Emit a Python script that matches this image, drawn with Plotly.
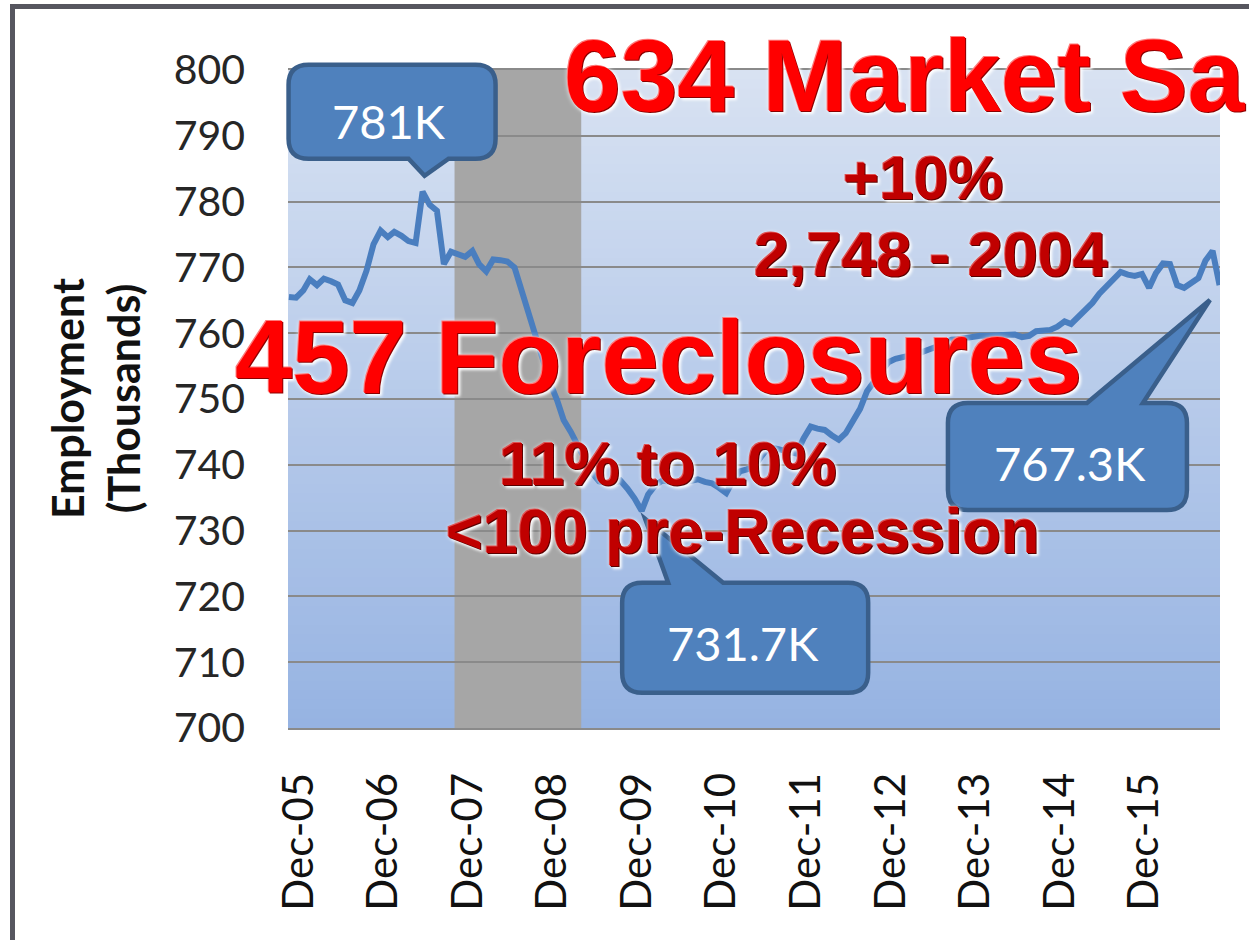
import plotly.graph_objects as go
import pandas as pd

# ---------------- data ----------------
start_month = "2005-12-01"
employment = [
    765.5, 765.4, 766.5, 768.2, 767.3, 768.3, 767.9, 767.4, 765.0, 764.6,
    766.5, 769.5, 773.5, 775.6, 774.6, 775.4, 774.8, 774.0, 773.7, 781.5,
    779.5, 778.6, 770.5, 772.4, 772.0, 771.6, 772.5, 770.5, 769.4, 771.2,
    771.1, 770.9, 770.0, 766.5, 762.5, 759.0, 755.7, 752.5, 749.8, 746.8,
    745.0, 742.9, 740.6, 738.8, 737.5, 737.2, 737.2, 737.6, 736.4, 734.9,
    733.0, 735.5, 736.9, 737.6, 737.4, 737.1, 737.3, 737.6, 737.8, 737.4,
    737.2, 736.5, 735.7, 737.5, 739.0, 739.3, 739.7, 741.2, 742.6, 742.5,
    742.2, 741.9, 741.7, 744.0, 745.8, 745.5, 745.3, 744.5, 743.8, 744.8,
    746.5, 748.5, 751.2, 752.7, 754.2, 755.6, 756.1, 756.4, 756.6, 756.8,
    757.1, 757.6, 758.0, 758.5, 759.0, 759.1, 759.3, 759.5, 759.6, 759.6,
    759.7, 759.8, 759.9, 759.8, 759.4, 759.6, 760.3, 760.5, 760.5, 761.0,
    761.8, 761.4, 762.5, 763.3, 764.6, 766.0, 767.2, 768.3, 769.3, 768.9,
    768.7, 769.0, 766.9, 769.1, 770.6, 770.5, 767.3, 766.9, 767.7, 768.4,
    771.0, 772.5, 767.3,
]
tick_labels = ["Dec-05", "Dec-06", "Dec-07", "Dec-08", "Dec-09", "Dec-10",
               "Dec-11", "Dec-12", "Dec-13", "Dec-14", "Dec-15"]
y_ticks = [700, 710, 720, 730, 740, 750, 760, 770, 780, 790, 800]
recession_start = "2007-11-16"
recession_end = "2009-05-16"
callout_texts = ["781K", "731.7K", "767.3K"]   # peak, trough, latest
headline_texts = ["634 Market Sales", "+10%", "2,748 - 2004",
                  "457 Foreclosures", "11% to 10%", "<100 pre-Recession"]

months = pd.date_range(start_month, periods=len(employment), freq="MS")
tick_dates = [pd.to_datetime(t, format="%b-%y") for t in tick_labels]

# ---------------- layout geometry ----------------
W, H = 1249, 940
ML, MR, MT, MB = 288, 29, 70, 212
PW, PH = W - ML - MR, H - MT - MB
x_range = [pd.Timestamp("2005-11-27"), pd.Timestamp("2016-12-03")]
y_range = [y_ticks[0], y_ticks[-1]]


def xfrac(t):
    return (pd.Timestamp(t) - x_range[0]) / (x_range[1] - x_range[0])


def yfrac(v):
    return (v - y_range[0]) / (y_range[1] - y_range[0])


def px2paper(px, py):
    return (px - ML) / PW, (H - MB - py) / PH


fig = go.Figure()

# line
fig.add_trace(go.Scatter(
    x=months, y=employment, mode="lines",
    line=dict(color="#4a7ebf", width=6),
    hoverinfo="x+y", showlegend=False,
))

shapes = []
# gradient plot background (bands)
N = 70
top_c = (216, 226, 242)
bot_c = (150, 179, 226)
for k in range(N):
    f = (k + 0.5) / N
    c = tuple(int(round(bot_c[j] + (top_c[j] - bot_c[j]) * f)) for j in range(3))
    shapes.append(dict(type="rect", xref="paper", yref="paper",
                       x0=0, x1=1, y0=k / N, y1=(k + 1) / N + 0.002,
                       fillcolor="rgb(%d,%d,%d)" % c, line=dict(width=0),
                       layer="below"))
# recession shading
shapes.append(dict(type="rect", xref="x", yref="paper",
                   x0=recession_start, x1=recession_end, y0=0, y1=1,
                   fillcolor="#a6a6a6", line=dict(width=0), layer="between"))


def callout_path(box, side, base, tip, r=20):
    bx0, bx1, by0, by1 = box
    pts = []
    pts.append(("M", bx0 + r, by0))
    if side == "top":
        pts += [("L", base[0], by0), ("L", tip[0], tip[1]), ("L", base[1], by0)]
    pts.append(("L", bx1 - r, by0))
    pts.append(("Q", bx1, by0, bx1, by0 + r))
    pts.append(("L", bx1, by1 - r))
    pts.append(("Q", bx1, by1, bx1 - r, by1))
    if side == "bottom":
        pts += [("L", base[1], by1), ("L", tip[0], tip[1]), ("L", base[0], by1)]
    pts.append(("L", bx0 + r, by1))
    pts.append(("Q", bx0, by1, bx0, by1 - r))
    pts.append(("L", bx0, by0 + r))
    pts.append(("Q", bx0, by0, bx0 + r, by0))
    s = ""
    for p in pts:
        cmd = p[0]
        coords = p[1:]
        segs = []
        for i in range(0, len(coords), 2):
            segs.append("%.1f,%.1f" % (coords[i], -coords[i + 1]))
        s += cmd + " ".join(segs) + " "
    return s + "Z"


i_peak = max(range(len(employment)), key=lambda i: employment[i])
i_trough = min(range(len(employment)), key=lambda i: employment[i])
i_last = len(employment) - 1

callouts = [
    # anchor index, box(screen px rel), side, base, tip, text offset
    (i_peak, (-134, 73, -127, -33), "bottom", (-14, 26), (2, -16), (-34, -71), callout_texts[0]),
    (i_trough, (-19.5, 226.5, 72, 182), "top", (26.5, 81.5), (3.5, 8), (101.5, 132), callout_texts[1]),
    (i_last, (-271.6, -32.6, 117.8, 224.8), "top", (-132.6, -76.6), (-9.6, 14.8), (-149.6, 178), callout_texts[2]),
]

annotations = []
for idx, box, side, base, tip, toff, txt in callouts:
    shapes.append(dict(
        type="path", xref="paper", yref="paper",
        xsizemode="pixel", ysizemode="pixel",
        xanchor=xfrac(months[idx]), yanchor=yfrac(employment[idx]),
        path=callout_path(box, side, base, tip),
        fillcolor="#4f81bd", line=dict(color="#3a5f8b", width=4.5),
        layer="above",
    ))
    annotations.append(dict(
        x=months[idx], y=employment[idx], xref="x", yref="y",
        xshift=toff[0], yshift=-toff[1], showarrow=False,
        text=txt, font=dict(family="Lato", size=47, color="white"),
        xanchor="center", yanchor="middle",
    ))

# outer frame
fx, fy = px2paper(12.5, 6.5)
shapes.append(dict(type="rect", xref="paper", yref="paper",
                   x0=fx, x1=1.3, y0=-0.6, y1=fy,
                   line=dict(color="#56565f", width=5), fillcolor="rgba(0,0,0,0)",
                   layer="above"))

# y axis title
annotations.append(dict(
    x=0, y=0.5, xref="paper", yref="paper", xshift=95 - ML,
    text="<b>Employment</b><br><b>(Thousands)</b>", textangle=-90,
    showarrow=False, font=dict(family="Lato", size=43, color="#111111"),
    xanchor="center", yanchor="middle",
))

bright_shadow = ("1px 1px 0px #8b0000, -1px -1px 0px #ff7a7a, "
                 "3px 3px 3px rgba(255,255,255,0.95), 0px 0px 5px #ffffff")
dark_shadow = ("1px 1px 0px #5a0000, -1px -1px 0px #e05050, "
               "3px 3px 3px rgba(255,255,255,0.95), 0px 0px 4px #ffffff")

headline_specs = [
    # text, px, py, size, color, shadow, anchor
    (headline_texts[0], 562, 76, 102, "#ff0000", bright_shadow, "left"),
    (headline_texts[1], 923, 177, 62, "#c00000", dark_shadow, "center"),
    (headline_texts[2], 931, 254, 63, "#c00000", dark_shadow, "center"),
    (headline_texts[3], 658, 358, 103, "#ff0000", bright_shadow, "center"),
    (headline_texts[4], 668, 463, 62, "#c00000", dark_shadow, "center"),
    (headline_texts[5], 743, 531, 63, "#c00000", dark_shadow, "center"),
]
for txt, px, py, size, col, shd, anc in headline_specs:
    xp, yp = px2paper(px, py)
    annotations.append(dict(
        x=xp, y=yp, xref="paper", yref="paper", text="<b>%s</b>" % txt,
        showarrow=False, xanchor=anc, yanchor="middle",
        font=dict(family="Liberation Sans", size=size, color=col, shadow=shd),
    ))

fig.update_layout(
    width=W, height=H,
    margin=dict(l=ML, r=MR, t=MT, b=MB, pad=0),
    paper_bgcolor="white", plot_bgcolor="#b5c9eb",
    shapes=shapes, annotations=annotations, showlegend=False,
    xaxis=dict(
        range=[x_range[0], x_range[1]], tickvals=tick_dates, ticktext=tick_labels,
        tickangle=-90, showgrid=False, zeroline=False,
        showline=True, linecolor="#8a8a8a", linewidth=2, mirror=True,
        ticks="", ticklabelstandoff=26, ticklabelshift=10,
        tickfont=dict(family="Lato", size=42, color="#111111"),
    ),
    yaxis=dict(
        range=y_range, tickvals=y_ticks, showgrid=True,
        gridcolor="#8a8a8a", gridwidth=2, zeroline=False, showline=False,
        ticks="", ticklabelstandoff=42,
        tickfont=dict(family="Lato", size=41, color="#262626"),
    ),
)

fig.write_html(
    "out.html",
    config={"displayModeBar": False},
    post_script="document.body.style.margin='0';document.body.style.overflow='hidden';",
)
